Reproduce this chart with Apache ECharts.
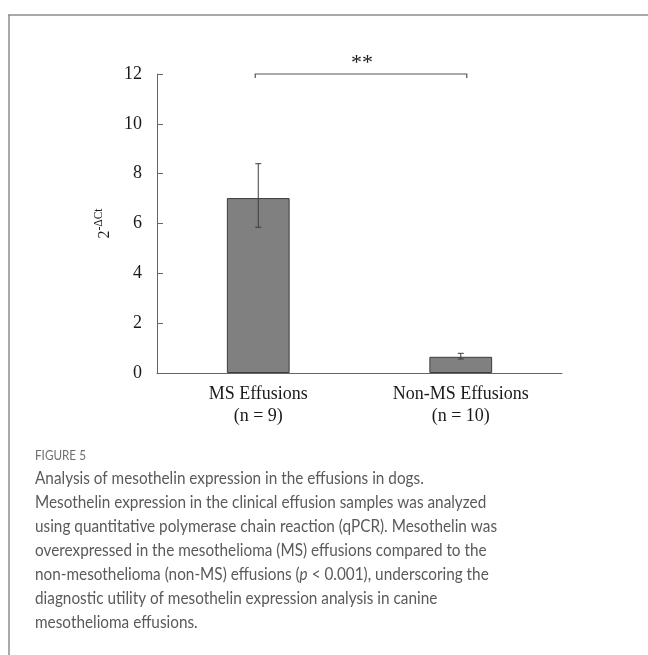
<!DOCTYPE html>
<html>
<head>
<meta charset="utf-8">
<script src="https://cdn.jsdelivr.net/npm/echarts@6/dist/echarts.min.js"></script>
<style>
  html, body { margin: 0; padding: 0; background: #fff; }
  #chart { width: 648px; height: 655px; }
</style>
</head>
<body>
<div id="chart"></div>
<script>
// Groups, mean 2^-ΔCt and error-bar bounds
const categories = ['MS Effusions\n(n = 9)', 'Non-MS Effusions\n(n = 10)'];
const meanValues = [7.02, 0.65];
const errorLow = [5.85, 0.56];
const errorHigh = [8.4, 0.79];
const yTicks = [0, 2, 4, 6, 8, 10, 12];
const sigLevel = 12;
const sigMark = '**';

const captionTitle = 'FIGURE 5';
const captionLines = [
  'Analysis of mesothelin expression in the effusions in dogs.',
  'Mesothelin expression in the clinical effusion samples was analyzed',
  'using quantitative polymerase chain reaction (qPCR). Mesothelin was',
  'overexpressed in the mesothelioma (MS) effusions compared to the',
  'non-mesothelioma (non-MS) effusions ({i|p} < 0.001), underscoring the',
  'diagnostic utility of mesothelin expression analysis in canine',
  'mesothelioma effusions.'
];

const serif = '"Liberation Serif", "Times New Roman", serif';
const sansFamily = 'Lato, "Open Sans", sans-serif';

const chart = echarts.init(document.getElementById('chart'), null, { renderer: 'canvas' });

// Caption block under the plot (slightly condensed sans)
const captionGraphics = [
  {
    type: 'text', x: 35, y: 449, scaleX: 0.9,
    style: { text: captionTitle, fontFamily: sansFamily, fontSize: 13, fill: '#6e6e6e' }
  }
].concat(captionLines.map((line, i) => ({
  type: 'text', x: 35, y: 471 + i * 23.9, scaleX: 0.935,
  style: {
    text: line,
    fontFamily: sansFamily,
    fontSize: 16.4,
    fill: '#5a5a5a',
    rich: { i: { fontStyle: 'italic', fontSize: 16.4, fontFamily: sansFamily, fill: '#5a5a5a' } }
  }
})));

chart.setOption({
  animation: false,
  backgroundColor: '#fff',
  grid: { left: 157, top: 74, width: 405, height: 299, containLabel: false },
  graphic: [
    { type: 'line', shape: { x1: 8, y1: 15, x2: 648, y2: 15 }, style: { stroke: '#8c8c8c', lineWidth: 1.5 } },
    { type: 'line', shape: { x1: 9, y1: 15, x2: 9, y2: 655 }, style: { stroke: '#8c8c8c', lineWidth: 1.5 } }
  ].concat(captionGraphics),
  xAxis: {
    type: 'category',
    data: categories,
    axisLine: { lineStyle: { color: '#62627a', width: 1 } },
    axisTick: { show: false },
    axisLabel: { fontFamily: serif, fontSize: 18, color: '#1a1a1a', lineHeight: 22, margin: 10 }
  },
  yAxis: {
    type: 'value',
    min: yTicks[0],
    max: yTicks[yTicks.length - 1],
    interval: yTicks[1] - yTicks[0],
    splitLine: { show: false },
    axisLine: { show: true, lineStyle: { color: '#62627a', width: 1 } },
    axisTick: { show: true, inside: true, length: 6, lineStyle: { color: '#62627a' } },
    axisLabel: { fontFamily: serif, fontSize: 18, color: '#1a1a1a', margin: 15 },
    name: '{b|2}{s|-ΔCt}',
    nameLocation: 'middle',
    nameRotate: 90,
    nameGap: 34,
    nameTextStyle: {
      rich: {
        b: { fontFamily: serif, fontSize: 16, color: '#1a1a1a', lineHeight: 20, verticalAlign: 'bottom' },
        s: { fontFamily: serif, fontSize: 11.5, color: '#1a1a1a', lineHeight: 20, verticalAlign: 'top' }
      }
    }
  },
  series: [
    {
      type: 'bar',
      data: meanValues,
      barWidth: '31%',
      itemStyle: { color: '#808080', borderColor: '#3c3c3c', borderWidth: 1 },
      z: 2
    },
    {
      // error bars
      type: 'custom',
      data: categories.map((c, i) => [i, errorLow[i], errorHigh[i]]),
      renderItem: function (params, api) {
        const i = api.value(0);
        const lo = api.coord([i, api.value(1)]);
        const hi = api.coord([i, api.value(2)]);
        const cap = 3;
        const st = { stroke: '#3c3c3c', lineWidth: 1 };
        return {
          type: 'group',
          children: [
            { type: 'line', shape: { x1: lo[0], y1: lo[1], x2: hi[0], y2: hi[1] }, style: st },
            { type: 'line', shape: { x1: hi[0] - cap, y1: hi[1], x2: hi[0] + cap, y2: hi[1] }, style: st },
            { type: 'line', shape: { x1: lo[0] - cap, y1: lo[1], x2: lo[0] + cap, y2: lo[1] }, style: st }
          ]
        };
      },
      z: 3
    },
    {
      // significance bracket
      type: 'custom',
      data: [[0, 1, sigLevel]],
      clip: false,
      renderItem: function (params, api) {
        const a = api.coord([api.value(0), api.value(2)]);
        const b = api.coord([api.value(1), api.value(2)]);
        const x1 = a[0] - 3, x2 = b[0] + 6, y = a[1];
        const st = { stroke: '#555', lineWidth: 1.2, fill: null };
        return {
          type: 'group',
          children: [
            { type: 'polyline', shape: { points: [[x1, y + 4], [x1, y], [x2, y], [x2, y + 4]] }, style: st },
            { type: 'text', x: (x1 + x2) / 2 + 1, y: y - 11,
              style: { text: sigMark, fontFamily: serif, fontSize: 22, fill: '#1a1a1a', align: 'center', verticalAlign: 'middle' } }
          ]
        };
      },
      z: 3
    }
  ]
});
</script>
</body>
</html>
